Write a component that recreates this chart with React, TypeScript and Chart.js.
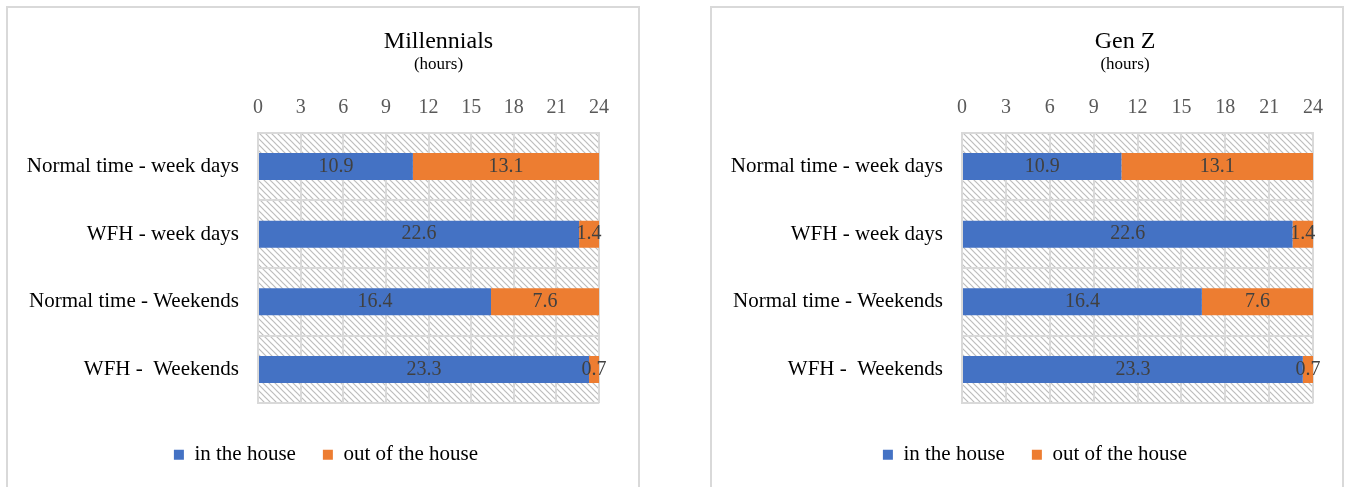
import React, { useEffect, useRef } from 'react';
import { Chart, registerables } from 'chart.js';

Chart.register(...registerables);

const categories = ['Normal time - week days', 'WFH - week days', 'Normal time - Weekends', 'WFH -  Weekends'];
const seriesNames = ['in the house', 'out of the house'];
const millennialsInHouse = [10.9, 22.6, 16.4, 23.3];
const millennialsOutHouse = [13.1, 1.4, 7.6, 0.7];
const genZInHouse = [10.9, 22.6, 16.4, 23.3];
const genZOutHouse = [13.1, 1.4, 7.6, 0.7];
const hourTicks = [0, 3, 6, 9, 12, 15, 18, 21, 24];
const chartTitles = ['Millennials', 'Gen Z'];
const subtitleText = '(hours)';

const BLUE = '#4472C4';
const ORANGE = '#ED7D31';
const GRID = '#d9d9d9';
const FONT = "'Liberation Serif', 'Times New Roman', serif";

Chart.defaults.font.family = FONT;

function makeHatch(ctx: CanvasRenderingContext2D) {
  const c = document.createElement('canvas');
  c.width = 6;
  c.height = 6;
  const g = c.getContext('2d') as CanvasRenderingContext2D;
  g.strokeStyle = '#bdbdbd';
  g.lineWidth = 1.2;
  for (const o of [-6, 0, 6]) {
    g.beginPath();
    g.moveTo(o - 1, -1);
    g.lineTo(o + 7, 7);
    g.stroke();
  }
  return ctx.createPattern(c, 'repeat');
}

const hatchPlugin = {
  id: 'hatchBg',
  beforeDraw(chart: any) {
    const { ctx, chartArea } = chart;
    if (!chartArea) return;
    ctx.save();
    ctx.fillStyle = makeHatch(ctx) as any;
    ctx.fillRect(chartArea.left, chartArea.top, chartArea.right - chartArea.left, chartArea.bottom - chartArea.top);
    ctx.restore();
  },
};

const valueLabelPlugin = {
  id: 'valueLabels',
  afterDatasetsDraw(chart: any) {
    const { ctx } = chart;
    ctx.save();
    ctx.font = `20px ${FONT}`;
    ctx.fillStyle = '#404040';
    ctx.textAlign = 'center';
    ctx.textBaseline = 'middle';
    chart.data.datasets.forEach((ds: any, i: number) => {
      const meta = chart.getDatasetMeta(i);
      meta.data.forEach((bar: any, j: number) => {
        const p = bar.getProps(['x', 'y', 'base'], true);
        const cx = (p.x + p.base) / 2;
        ctx.fillText(Number(ds.data[j]).toFixed(1), cx, p.y);
      });
    });
    ctx.restore();
  },
};

// Centre the legend under the whole box rather than the padded layout area
const legendShiftPlugin = {
  id: 'legendShift',
  afterLayout(chart: any) {
    const lg = chart.legend;
    if (!lg) return;
    lg.left += 22.5;
    lg.right += 22.5;
    lg.top += 2;
    lg.bottom += 2;
  },
};

function makeHeaderPlugin(title: string, titleX: number) {
  return {
    id: 'header',
    afterDraw(chart: any) {
      const { ctx } = chart;
      ctx.save();
      ctx.textAlign = 'center';
      ctx.textBaseline = 'middle';
      ctx.fillStyle = '#000';
      ctx.font = `24px ${FONT}`;
      ctx.fillText(title, titleX, 33.5);
      ctx.font = `17px ${FONT}`;
      ctx.fillText(subtitleText, titleX, 56.5);
      ctx.restore();
    },
  };
}

type BoxProps = {
  title: string;
  titleX: number;
  inData: number[];
  outData: number[];
  left: number;
  padRight: number;
};

function ChartBox({ title, titleX, inData, outData, left, padRight }: BoxProps) {
  const ref = useRef<HTMLCanvasElement | null>(null);
  useEffect(() => {
    if (!ref.current) return;
    const chart = new Chart(ref.current, {
      type: 'bar',
      data: {
        labels: categories,
        datasets: [
          { label: seriesNames[0], data: inData, backgroundColor: BLUE, categoryPercentage: 1, barPercentage: 0.4, borderWidth: 0 },
          { label: seriesNames[1], data: outData, backgroundColor: ORANGE, categoryPercentage: 1, barPercentage: 0.4, borderWidth: 0 },
        ],
      },
      options: {
        indexAxis: 'y',
        animation: false,
        responsive: false,
        layout: { padding: { top: 64.4, left: 0, right: padRight, bottom: 13.7 } },
        scales: {
          x: {
            position: 'top',
            stacked: true,
            min: 0,
            max: 24,
            afterBuildTicks: (s: any) => {
              s.ticks = hourTicks.map((v) => ({ value: v }));
            },
            afterFit: (s: any) => {
              s.height = 60.3;
            },
            ticks: { padding: 12.5, color: '#595959', font: { family: FONT, size: 20 } },
            grid: { color: GRID, lineWidth: 2, drawTicks: false },
            border: { display: true, color: GRID, width: 2 },
          },
          y: {
            stacked: true,
            afterFit: (s: any) => {
              s.width = 250;
            },
            ticks: { padding: 19, color: '#000', font: { family: FONT, size: 21 } },
            grid: { color: GRID, lineWidth: 2, drawTicks: false, offset: true },
            border: { display: true, color: GRID, width: 2 },
          },
        },
        plugins: {
          legend: {
            position: 'bottom',
            labels: { boxWidth: 10, boxHeight: 10, padding: 27, color: '#000', font: { family: FONT, size: 21 } },
            title: { display: true, text: '', font: { size: 12, lineHeight: 1 }, padding: 0 },
          },
          tooltip: { enabled: false },
          title: { display: false },
        },
      } as any,
      plugins: [hatchPlugin, valueLabelPlugin, legendShiftPlugin, makeHeaderPlugin(title, titleX)],
    });
    return () => chart.destroy();
  }, []);
  return (
    <div
      style={{
        position: 'absolute',
        left,
        top: 6,
        width: 634,
        height: 481,
        boxSizing: 'border-box',
        border: `2px solid ${GRID}`,
        borderBottom: 'none',
        overflow: 'hidden',
        background: '#fff',
      }}
    >
      <canvas ref={ref} width={630} height={479} style={{ display: 'block' }} />
    </div>
  );
}

export default function App() {
  return (
    <div>
      <ChartBox title={chartTitles[0]} titleX={430.5} inData={millennialsInHouse} outData={millennialsOutHouse} left={6} padRight={39} />
      <ChartBox title={chartTitles[1]} titleX={413} inData={genZInHouse} outData={genZOutHouse} left={710} padRight={29} />
    </div>
  );
}
